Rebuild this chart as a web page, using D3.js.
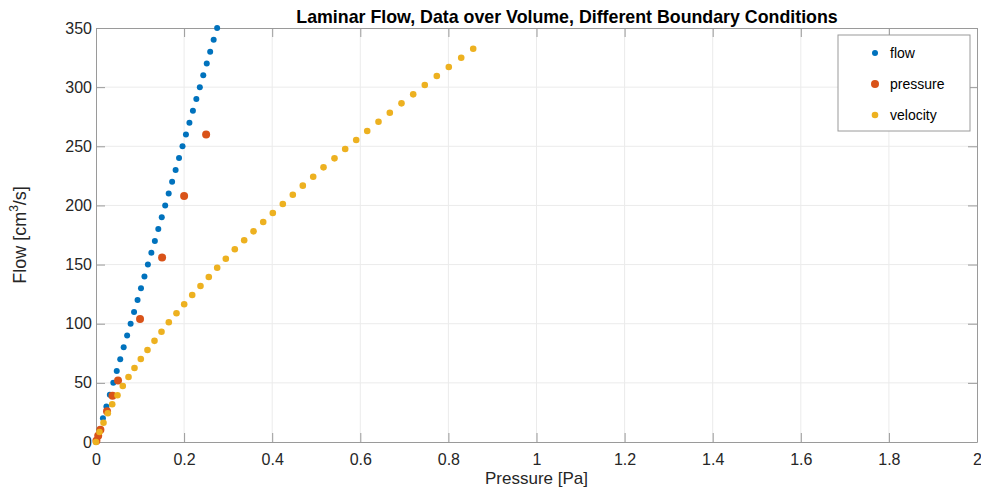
<!DOCTYPE html>
<html>
<head>
<meta charset="utf-8">
<script src="https://cdn.jsdelivr.net/npm/d3@7"></script>
<style>
  body { margin: 0; background: #fff; }
  text { font-family: "Liberation Sans", Arial, sans-serif; }
</style>
</head>
<body>
<div id="chart"></div>
<script>
// data
var flowP = [0, 0.0079, 0.0157, 0.0236, 0.0314, 0.0393, 0.0471, 0.055, 0.0628, 0.0707, 0.0786, 0.0864,
  0.0943, 0.1021, 0.11, 0.1178, 0.1257, 0.1336, 0.1414, 0.1493, 0.1571, 0.165, 0.1728, 0.1807,
  0.1885, 0.1964, 0.2042, 0.2121, 0.22, 0.2278, 0.2357, 0.2435, 0.2514, 0.2592, 0.2671, 0.275];
var flowQ = [0, 10, 20, 30, 40, 50, 60, 70, 80, 90, 100, 110, 120, 130, 140, 150, 160, 170, 180,
  190, 200, 210, 220, 230, 240, 250, 260, 270, 280, 290, 300, 310, 320, 330, 340, 350];

var pressureP = [0.001, 0.005, 0.01, 0.025, 0.0375, 0.05, 0.1, 0.15, 0.2, 0.25];
var pressureQ = [1, 5.2, 10.4, 26, 39, 52, 104, 156, 208, 260];

var velocityP = [0, 0.0079, 0.017, 0.0268, 0.0368, 0.0488, 0.0608, 0.0738, 0.0874, 0.1017, 0.1169,
  0.1328, 0.1487, 0.1653, 0.1827, 0.2002, 0.2184, 0.2372, 0.2561, 0.2751, 0.2947, 0.3151, 0.3364,
  0.3576, 0.3796, 0.4014, 0.4241, 0.4468, 0.4695, 0.4931, 0.5165, 0.5414, 0.5657, 0.5907, 0.6157,
  0.6413, 0.667, 0.6935, 0.7201, 0.7464, 0.7737, 0.8009, 0.8291, 0.8563];
var velocityQ = [0, 8.4, 16.3, 24.3, 31.9, 39.5, 47.3, 54.9, 62.5, 70.2, 77.8, 85.5, 93.2, 101.2,
  108.8, 116.4, 124.3, 131.9, 139.5, 147.3, 154.9, 162.9, 170.5, 178.1, 186, 193.6, 201.2, 209,
  216.7, 224.3, 232.2, 239.8, 247.7, 255.3, 262.9, 270.8, 278.4, 286.3, 293.9, 301.8, 309.4, 317,
  324.9, 332.5];

var xTicks = [0, 0.2, 0.4, 0.6, 0.8, 1, 1.2, 1.4, 1.6, 1.8, 2];
var yTicks = [0, 50, 100, 150, 200, 250, 300, 350];

var seriesNames = ["flow", "pressure", "velocity"];
var seriesColors = ["#0072BD", "#D95319", "#EDB120"];
var seriesR = [3, 4, 3.3];

var W = 981, H = 488;
var margin = {top: 28, right: 4, bottom: 46, left: 96},
    width = W - margin.left - margin.right,
    height = H - margin.top - margin.bottom;

var x = d3.scaleLinear().domain([0, 2]).range([0, width]);
var y = d3.scaleLinear().domain([0, 350]).range([height, 0]);

var svg = d3.select("#chart").append("svg")
    .attr("width", W)
    .attr("height", H);

var g = svg.append("g")
    .attr("transform", "translate(" + margin.left + "," + margin.top + ")");

// grid
g.selectAll(".gx").data(xTicks.slice(1, -1)).enter().append("line")
    .attr("x1", function(d) { return x(d); }).attr("x2", function(d) { return x(d); })
    .attr("y1", 0).attr("y2", height)
    .style("stroke", "#ebebeb").style("stroke-width", 1);
g.selectAll(".gy").data(yTicks.slice(1, -1)).enter().append("line")
    .attr("y1", function(d) { return y(d); }).attr("y2", function(d) { return y(d); })
    .attr("x1", 0).attr("x2", width)
    .style("stroke", "#ebebeb").style("stroke-width", 1);

// axes (ticks point inward, box on)
var axisColor = "#9a9a9a";
function styleAxis(sel, showText) {
  sel.select(".domain").style("stroke", axisColor);
  sel.selectAll(".tick line").style("stroke", axisColor);
  sel.selectAll(".tick text").style("fill", "#262626").style("font-size", "16px")
     .style("display", showText ? null : "none");
}
var fmt = function(d) { return d3.format("")(d); };

g.append("g").attr("transform", "translate(0," + height + ")")
    .call(d3.axisBottom(x).tickValues(xTicks).tickFormat(fmt).tickSizeInner(-9).tickSizeOuter(0).tickPadding(12))
    .call(styleAxis, true);
g.append("g")
    .call(d3.axisTop(x).tickValues(xTicks).tickSizeInner(-9).tickSizeOuter(0))
    .call(styleAxis, false);
g.append("g")
    .call(d3.axisLeft(y).tickValues(yTicks).tickSizeInner(-9).tickSizeOuter(0).tickPadding(4))
    .call(styleAxis, true);
g.append("g").attr("transform", "translate(" + width + ",0)")
    .call(d3.axisRight(y).tickValues(yTicks).tickSizeInner(-9).tickSizeOuter(0))
    .call(styleAxis, false);

// points
var allP = [flowP, pressureP, velocityP];
var allQ = [flowQ, pressureQ, velocityQ];
allP.forEach(function(ps, k) {
  g.append("g").selectAll("circle")
      .data(ps.map(function(p, i) { return {p: p, q: allQ[k][i]}; }))
      .enter().append("circle")
      .attr("cx", function(d) { return x(d.p); })
      .attr("cy", function(d) { return y(d.q); })
      .attr("r", seriesR[k])
      .style("fill", seriesColors[k]);
});

// title and labels
svg.append("text")
    .attr("x", 567).attr("y", 23)
    .style("text-anchor", "middle").style("font-weight", "bold").style("font-size", "17.8px")
    .style("fill", "#000")
    .text("Laminar Flow, Data over Volume, Different Boundary Conditions");

svg.append("text")
    .attr("x", margin.left + width / 2).attr("y", 484)
    .style("text-anchor", "middle").style("font-size", "17px").style("fill", "#262626")
    .text("Pressure [Pa]");

var yl = svg.append("text")
    .attr("transform", "translate(26," + (margin.top + height / 2) + ") rotate(-90)")
    .style("text-anchor", "middle").style("font-size", "18px").style("fill", "#262626");
yl.append("tspan").text("Flow [cm");
yl.append("tspan").attr("dy", -8).style("font-size", "12px").text("3");
yl.append("tspan").attr("dy", 8).text("/s]");

// legend
var leg = svg.append("g").attr("transform", "translate(838,35)");
leg.append("rect").attr("width", 132).attr("height", 96)
    .style("fill", "#fff").style("stroke", "#9a9a9a").style("stroke-width", 1);
seriesNames.forEach(function(name, i) {
  var ly = 18 + i * 31;
  leg.append("circle").attr("cx", 37).attr("cy", ly).attr("r", seriesR[i]).style("fill", seriesColors[i]);
  leg.append("text").attr("x", 52).attr("y", ly + 5)
      .style("font-size", "14px").style("fill", "#000").text(name);
});
</script>
</body>
</html>
